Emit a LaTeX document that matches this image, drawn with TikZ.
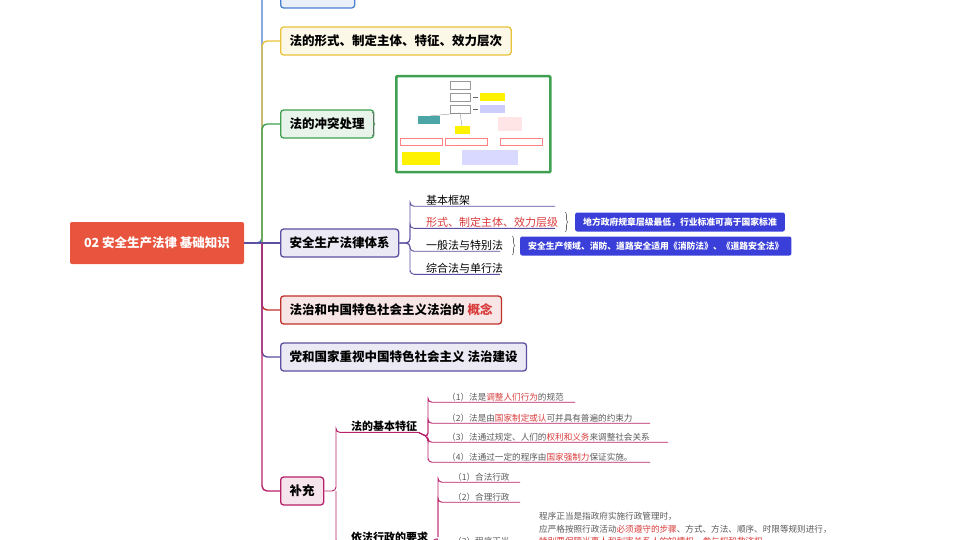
\documentclass[tikz,border=0pt]{standalone}
\usepackage{fontspec}
\setmainfont{Noto Sans CJK SC}
\usetikzlibrary{decorations.pathreplacing}
\definecolor{rootred}{HTML}{E8543E}
\definecolor{lblue}{HTML}{4A7FD0}
\definecolor{lyellow}{HTML}{E8C23A}
\definecolor{lgreen}{HTML}{3EA050}
\definecolor{lpurple}{HTML}{5A4FA0}
\definecolor{lred}{HTML}{C0302A}
\definecolor{lmag}{HTML}{B8206A}
\definecolor{calloutblue}{HTML}{3B3FD9}
\definecolor{hl}{HTML}{D93A3A}

\begin{document}
\begin{tikzpicture}[
            x = 1pt, y = -1pt,
            topic/.style = {draw, line width = 1.3pt, rounded corners = 3pt, anchor = west,
                            inner xsep = 9pt, minimum height = 28pt, font = \bfseries\fontsize{12.5}{14}\selectfont},
            sub/.style = {anchor = west, font = \fontsize{11}{12}\selectfont, inner sep = 1pt},
            leaf/.style = {anchor = west, font = \fontsize{8.6}{10}\selectfont, text = black!65, inner sep = 1pt},
            callout/.style = {fill = calloutblue, text = white, rounded corners = 2pt, anchor = west,
                              font = \bfseries\fontsize{8.8}{10}\selectfont, minimum height = 19pt, inner xsep = 8pt},
            branch/.style = {line width = 1.4pt, rounded corners = 5pt},
            twig/.style = {line width = 0.9pt, rounded corners = 4pt},
            brace/.style = {decorate, decoration = {brace, amplitude = 3pt}, line width = 0.6pt, black!60},
            hi/.style = {text = hl}
            ]
            \useasboundingbox (0,0) rectangle (960,540);
            \clip (0,0) rectangle (960,540);
            % root and trunk
            \node[fill = rootred, text = white, rounded corners = 2pt, minimum width = 174pt, minimum height = 42pt,
                  font = \bfseries\fontsize{12.5}{14}\selectfont] (root) at (157,243) {02 安全生产法律 基础知识};
            \coordinate (trunk) at (262,243);
            % topics
            \node[topic, draw = lblue, fill = lblue!12, minimum width = 74pt] (law) at (280,-6) {};
            \node[topic, draw = lyellow, fill = lyellow!12] (form) at (280,41) {法的形式、制定主体、特征、效力层次};
            \node[topic, draw = lgreen, fill = lgreen!12] (conflict) at (280,124) {法的冲突处理};
            \node[topic, draw = lpurple, fill = lpurple!12] (system) at (280,243) {安全生产法律体系};
            \node[topic, draw = lred, fill = lred!12] (concept) at (280,310) {法治和中国特色社会主义法治的 \textcolor{hl}{概念}};
            \node[topic, draw = lpurple, fill = lpurple!12] (build) at (280,357) {党和国家重视中国特色社会主义 法治建设};
            \node[topic, draw = lmag, fill = lmag!12] (extra) at (280,491) {补充};
            % trunk branches
            \draw[branch, lblue] (root.east) -- (trunk) -- (262,-10) |- (law.west);
            \draw[branch, lyellow] (trunk) |- (form.west);
            \draw[branch, lgreen] (trunk) |- (conflict.west);
            \draw[branch, lpurple] (root.east) -- (system.west);
            \draw[branch, lred] (trunk) |- (concept.west);
            \draw[branch, lpurple] (trunk) |- (build.west);
            \draw[branch, lmag] (trunk) |- (extra.west);
            % conflict picture
            \draw[brace] (372,112) -- (372,136);
            \node[draw = lgreen, line width = 2.5pt, fill = white, minimum width = 154pt, minimum height = 96pt,
                  rounded corners = 1pt, anchor = north west] (chart) at (395,75) {};
            \begin{scope}[line width = 0.3pt]
                \foreach \yy in {85,97,109} \draw[black!40] (450,\yy-4) rectangle (470,\yy+4);
                \foreach \yy/\cc in {97/yellow, 109/blue!20} {
                    \draw[black!60] (473,\yy) -- (478,\yy);
                    \fill[\cc] (480,\yy-4) rectangle (505,\yy+4);}
                \fill[teal!70] (418,116) rectangle (440,124);
                \fill[yellow] (455,126) rectangle (470,134);
                \draw[black!50] (460,113) -- (430,116) (460,113) -- (462,126);
                \fill[red!10] (498,117) rectangle (522,131);
                \foreach \xx in {400,445,500} \draw[red!50] (\xx,138) rectangle (\xx+42,145);
                \fill[yellow] (402,152) rectangle (440,165);
                \fill[blue!15] (462,150) rectangle (518,165);
            \end{scope}
            % legal system
            \node[sub] (frame) at (425,200) {基本框架};
            \node[sub, hi] (level) at (425,222) {形式、制定主体、效力层级};
            \node[sub] (general) at (425,245) {一般法与特别法};
            \node[sub] (single) at (425,268) {综合法与单行法};
            \coordinate (sfork) at (410,243);
            \foreach \nn/\ww in {frame/555, level/555, general/500, single/500}
                \draw[twig, lpurple] (system.east) -- (sfork) |- (\nn.south west -| sfork) -- (\ww,0 |- \nn.south);
            \draw[brace] (565,212) -- (565,232);
            \node[callout] (local) at (575,222) {地方政府规章层级最低，行业标准可高于国家标准};
            \draw[brace] (512,236) -- (512,255);
            \node[callout] (field) at (520,246) {安全生产领域、消防、道路安全适用《消防法》、《道路安全法》};
            % supplement
            \coordinate (efork) at (336,491);
            \node[sub, font = \bfseries\fontsize{11}{12}\selectfont] (feature) at (350,426) {法的基本特征};
            \node[sub, font = \bfseries\fontsize{11}{12}\selectfont] (admin) at (350,537) {依法行政的要求};
            \draw[twig, lmag] (extra.east) -- (efork) |- (feature.south west -| efork) -- (feature.south east);
            \draw[twig, lmag] (efork) |- (admin.south west -| efork) -- (admin.south east);
            \coordinate (ffork) at (428,437);
            \node[leaf] (f1) at (446,397) {（1）法是\textcolor{hl}{调整人们行为}的规范};
            \node[leaf] (f2) at (446,418) {（2）法是由\textcolor{hl}{国家制定或认}可并具有普遍的约束力};
            \node[leaf] (f3) at (446,437) {（3）法通过规定、人们的\textcolor{hl}{权利和义务}来调整社会关系};
            \node[leaf] (f4) at (446,457) {（4）法通过一定的程序由\textcolor{hl}{国家强制力}保证实施。};
            \foreach \nn/\ww in {f1/575, f2/650, f3/668, f4/650}
                \draw[twig, lmag] (feature.south east) -- (ffork) |- (\nn.south west -| ffork) -- (\ww,0 |- \nn.south);
            \coordinate (afork) at (438,537);
            \node[leaf] (a1) at (452,477) {（1）合法行政};
            \node[leaf] (a2) at (452,497) {（2）合理行政};
            \node[leaf] (a3) at (452,541) {（3）程序正当};
            \foreach \nn in {a1, a2}
                \draw[twig, lmag] (afork) |- (\nn.south west -| afork) -- (520,0 |- \nn.south);
            \draw[twig, lmag] (admin.south east) -- (afork) -- (438,545);
            \node[leaf, anchor = north west, align = left, font = \fontsize{8.6}{12.5}\selectfont] (due) at (538,511)
                {程序正当是指政府实施行政管理时，\\
                 应严格按照行政活动\textcolor{hl}{必须遵守的步骤}、方式、方法、顺序、时限等规则进行，\\
                 \textcolor{hl}{特别要保障当事人和利害关系人的知情权、参与权和救济权}};
          \end{tikzpicture}
\end{document}
